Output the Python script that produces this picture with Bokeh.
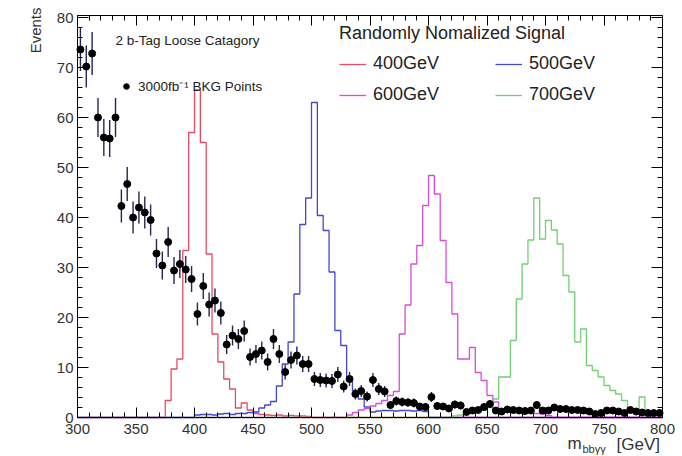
import numpy as np
from math import pi
from bokeh.plotting import figure
from bokeh.models import (LinearAxis, Range1d, Label, Legend, LegendItem,
                          SingleIntervalTicker, ColumnDataSource)
from bokeh.embed import file_html
from bokeh.resources import INLINE

# ---------------- data ----------------
x_min, x_max = 300, 800
y_min, y_max = 0, 80.4
bin_width = 5

# background points (3000 fb^-1), one per 5 GeV bin, 300-800 GeV
bkg_values = [73.6, 70.2, 72.8, 60.0, 56.0, 55.8, 60.0, 42.3, 46.7, 40.0,
              42.0, 41.0, 39.5, 32.8, 30.4, 35.1, 29.4, 30.7, 29.6, 27.7,
              20.7, 26.3, 22.6, 23.4, 20.9, 14.6, 16.4, 15.7, 17.3, 12.1,
              12.7, 13.4, 11.1, 15.7, 12.7, 9.1, 11.5, 12.4, 10.7, 10.7,
              7.7, 7.5, 7.4, 7.3, 8.6, 6.2, 7.7, 4.7, 5.3, 4.2,
              7.5, 5.7, 5.2, 2.5, 3.3, 3.1, 3.0, 2.9, 2.2, 2.1,
              4.1, 2.3, 2.2, 1.8, 2.6, 2.4, 1.1, 1.4, 1.5, 2.1,
              2.7, 1.4, 1.2, 1.6, 1.5, 1.4, 1.3, 1.4, 2.5, 1.4,
              1.4, 2.0, 1.7, 1.7, 1.5, 1.5, 1.4, 1.2, 0.7, 0.9,
              1.4, 1.4, 1.2, 0.9, 1.5, 1.2, 1.0, 0.9, 0.9, 0.9]
bkg_errors = [4.3, 4.2, 4.3, 3.9, 3.7, 3.7, 3.9, 3.3, 3.4, 3.2,
              3.2, 3.2, 3.1, 2.9, 2.8, 3.0, 2.7, 2.8, 2.7, 2.6,
              2.3, 2.6, 2.4, 2.4, 2.3, 1.9, 2.0, 2.0, 2.1, 1.7,
              1.8, 1.8, 1.7, 2.0, 1.8, 1.5, 1.7, 1.8, 1.6, 1.6,
              1.4, 1.4, 1.4, 1.4, 1.5, 1.2, 1.4, 1.1, 1.2, 1.0,
              1.4, 1.2, 1.1, 0.8, 0.9, 0.9, 0.9, 0.9, 0.7, 0.7,
              1.0, 0.8, 0.7, 0.7, 0.8, 0.8, 0.5, 0.6, 0.6, 0.7,
              0.8, 0.6, 0.5, 0.6, 0.6, 0.6, 0.6, 0.6, 0.8, 0.6,
              0.6, 0.7, 0.7, 0.7, 0.6, 0.6, 0.6, 0.5, 0.4, 0.5,
              0.6, 0.6, 0.5, 0.5, 0.6, 0.5, 0.5, 0.5, 0.5, 0.5]

# signal histograms: low edge of first filled bin + contents of 5 GeV bins
sig400_start = 375
sig400 = [3.4, 9.7, 11.7, 33.4, 57.0, 65.5, 55.0, 32.7, 16.7, 11.1,
          7.7, 5.7, 1.9, 2.9, 1.5, 0.8, 0.6, 0.5, 0.4, 0.5,
          0.3, 0.4, 0.3, 0.3, 0.2]
sig500_start = 400
sig500 = [0.5, 0.6, 0.6, 0.5, 0.7, 0.8, 0.6, 0.8, 0.8, 1.0,
          1.1, 1.9, 2.5, 3.2, 6.3, 10.7, 15.1, 24.7, 38.6, 43.9,
          63.0, 40.4, 37.4, 29.1, 17.4, 14.4, 8.1, 5.4, 3.7, 2.1,
          1.1, 1.3, 1.4, 1.4, 1.3, 1.4, 1.4, 1.3, 1.4, 1.2]
sig600_start = 530
sig600 = [0.5, 1.0, 1.5, 1.8, 2.3, 2.8, 3.4, 4.4, 5.2, 16.7,
          22.5, 30.7, 34.4, 42.4, 48.4, 44.7, 35.4, 27.0, 20.7, 11.7,
          11.7, 14.0, 9.0, 7.4, 4.4, 3.1, 1.7, 1.2, 1.0, 1.1,
          0.9, 1.0, 0.8, 0.7, 0.4]
sig700_start = 620
sig700 = [0.3, 0.5, 0.8, 1.0, 1.3, 1.5, 2.0, 3.7, 8.1, 8.1,
          15.4, 23.7, 30.7, 35.5, 43.9, 35.7, 39.4, 37.5, 34.7, 28.4,
          25.1, 15.1, 17.7, 10.4, 9.4, 8.1, 6.4, 5.4, 4.7, 3.4,
          1.7, 1.1, 4.1, 1.1, 0.8, 0.5]

signal_labels = ["400GeV", "500GeV", "600GeV", "700GeV"]
signal_colors = ["#e54c62", "#4646d4", "#d84cdc", "#72cf72"]

FONT = "Liberation Sans"

# ---------------- figure ----------------
# the frame covers the whole canvas; the histogram box (300-800, 0-80.4)
# occupies pixels 77..662 x 15..417 and the axes sit at its edges
W, H = 682, 456
box_l, box_r, box_t, box_b = 77, 662, 15, 417
sx = (box_r - box_l) / (x_max - x_min)
sy = (box_b - box_t) / (y_max - y_min)
p = figure(width=W, height=H, output_backend="svg", toolbar_location=None,
           x_range=Range1d(x_min - box_l / sx, x_max + (W - box_r) / sx),
           y_range=Range1d(y_min - (H - box_b) / sy, y_max + box_t / sy),
           x_axis_type=None, y_axis_type=None, min_border=0)
p.outline_line_color = None
p.background_fill_color = "white"
p.border_fill_color = "white"


def make_axis(ticker_interval, loc, bounds, major, minor, labels=True):
    ax = LinearAxis(ticker=SingleIntervalTicker(interval=ticker_interval,
                                                num_minor_ticks=5),
                    fixed_location=loc, bounds=bounds)
    ax.axis_line_color = "black"
    ax.major_tick_line_color = "black"
    ax.minor_tick_line_color = "black"
    ax.major_tick_in = major
    ax.major_tick_out = 0
    ax.minor_tick_in = minor
    ax.minor_tick_out = 0
    ax.major_label_text_font = FONT
    ax.major_label_text_font_size = "15px"
    if labels:
        ax.major_label_text_color = "#333333"
    else:
        ax.major_label_text_color = None
    return ax


ax_b = make_axis(50, y_min, (x_min, x_max), 10, 5)
ax_b.major_label_standoff = 6
ax_t = make_axis(50, y_max, (x_min, x_max), 10, 5, labels=False)
ax_l = make_axis(10, x_min, (y_min, y_max), 11, 5)
ax_l.major_label_standoff = 4
ax_r = make_axis(10, x_max, (y_min, y_max), 11, 5, labels=False)
p.add_layout(ax_b, "below")
p.add_layout(ax_t, "above")
p.add_layout(ax_l, "left")
p.add_layout(ax_r, "right")

# ---------------- signal histograms ----------------
n_bins = (x_max - x_min) // bin_width
edges = [x_min + bin_width * i for i in range(n_bins + 1)]
sig_renderers = []
for start, vals, col in zip([sig400_start, sig500_start, sig600_start, sig700_start],
                            [sig400, sig500, sig600, sig700], signal_colors):
    h = np.zeros(n_bins)
    i0 = (start - x_min) // bin_width
    h[i0:i0 + len(vals)] = vals
    ys = list(h) + [h[-1]]
    r = p.step(x=edges, y=ys, mode="after", line_color=col, line_width=1.3)
    sig_renderers.append(r)

# ---------------- background points ----------------
centers = [x_min + bin_width * (i + 0.5) for i in range(len(bkg_values))]
src = ColumnDataSource(dict(
    x=centers, y=bkg_values,
    lo=[v - e for v, e in zip(bkg_values, bkg_errors)],
    hi=[v + e for v, e in zip(bkg_values, bkg_errors)]))
p.segment(x0="x", y0="lo", x1="x", y1="hi", source=src,
          line_color="#262650", line_width=1.4)
pts = p.scatter(x="x", y="y", source=src, size=7, marker="circle",
                fill_color="black", line_color="black")

# ---------------- legends ----------------
leg = Legend(items=[LegendItem(label=l, renderers=[r])
                    for l, r in zip(signal_labels, sig_renderers)],
             location=(339, 351), orientation="horizontal", ncols=2,
             title="Randomly Nomalized Signal",
             title_text_font=FONT, title_text_font_size="18px",
             title_text_font_style="normal", title_text_color="#222222",
             title_standoff=9,
             label_text_font=FONT, label_text_font_size="18px",
             label_text_color="#222222",
             glyph_width=27, glyph_height=20, label_height=20,
             label_width=112, label_standoff=7, spacing=10,
             padding=0, margin=0, border_line_color=None,
             background_fill_alpha=0)
p.add_layout(leg)

leg2 = Legend(items=[LegendItem(label="3000fb\u207b\u00b9 BKG Points", renderers=[pts])],
              location=(119, 360), label_text_font=FONT,
              label_text_font_size="13.5px", label_text_color="#222222",
              glyph_width=14, glyph_height=20, label_height=20,
              label_standoff=5, padding=0, margin=0,
              border_line_color=None, background_fill_alpha=0)
p.add_layout(leg2)

p.add_layout(Label(x=115, y=416, x_units="screen", y_units="screen",
                   text="2 b-Tag Loose Catagory", text_font=FONT,
                   text_font_size="13.5px", text_baseline="middle",
                   text_color="#222222"))

# axis titles
p.add_layout(Label(x=35, y=449, x_units="screen", y_units="screen",
                   text="Events", angle=pi / 2, text_align="right",
                   text_baseline="middle", text_font=FONT,
                   text_font_size="15px", text_color="#333333"))
p.add_layout(Label(x=567, y=13, x_units="screen", y_units="screen",
                   text="m", text_font=FONT, text_font_size="17px",
                   text_baseline="middle", text_color="#333333"))
p.add_layout(Label(x=582, y=8, x_units="screen", y_units="screen",
                   text="bb\u03b3\u03b3", text_font=FONT, text_font_size="11px",
                   text_baseline="middle", text_color="#333333"))
p.add_layout(Label(x=616, y=12, x_units="screen", y_units="screen",
                   text="[GeV]", text_font=FONT, text_font_size="17px",
                   text_baseline="middle", text_color="#333333"))

open("out.html", "w").write(file_html(p, INLINE))
